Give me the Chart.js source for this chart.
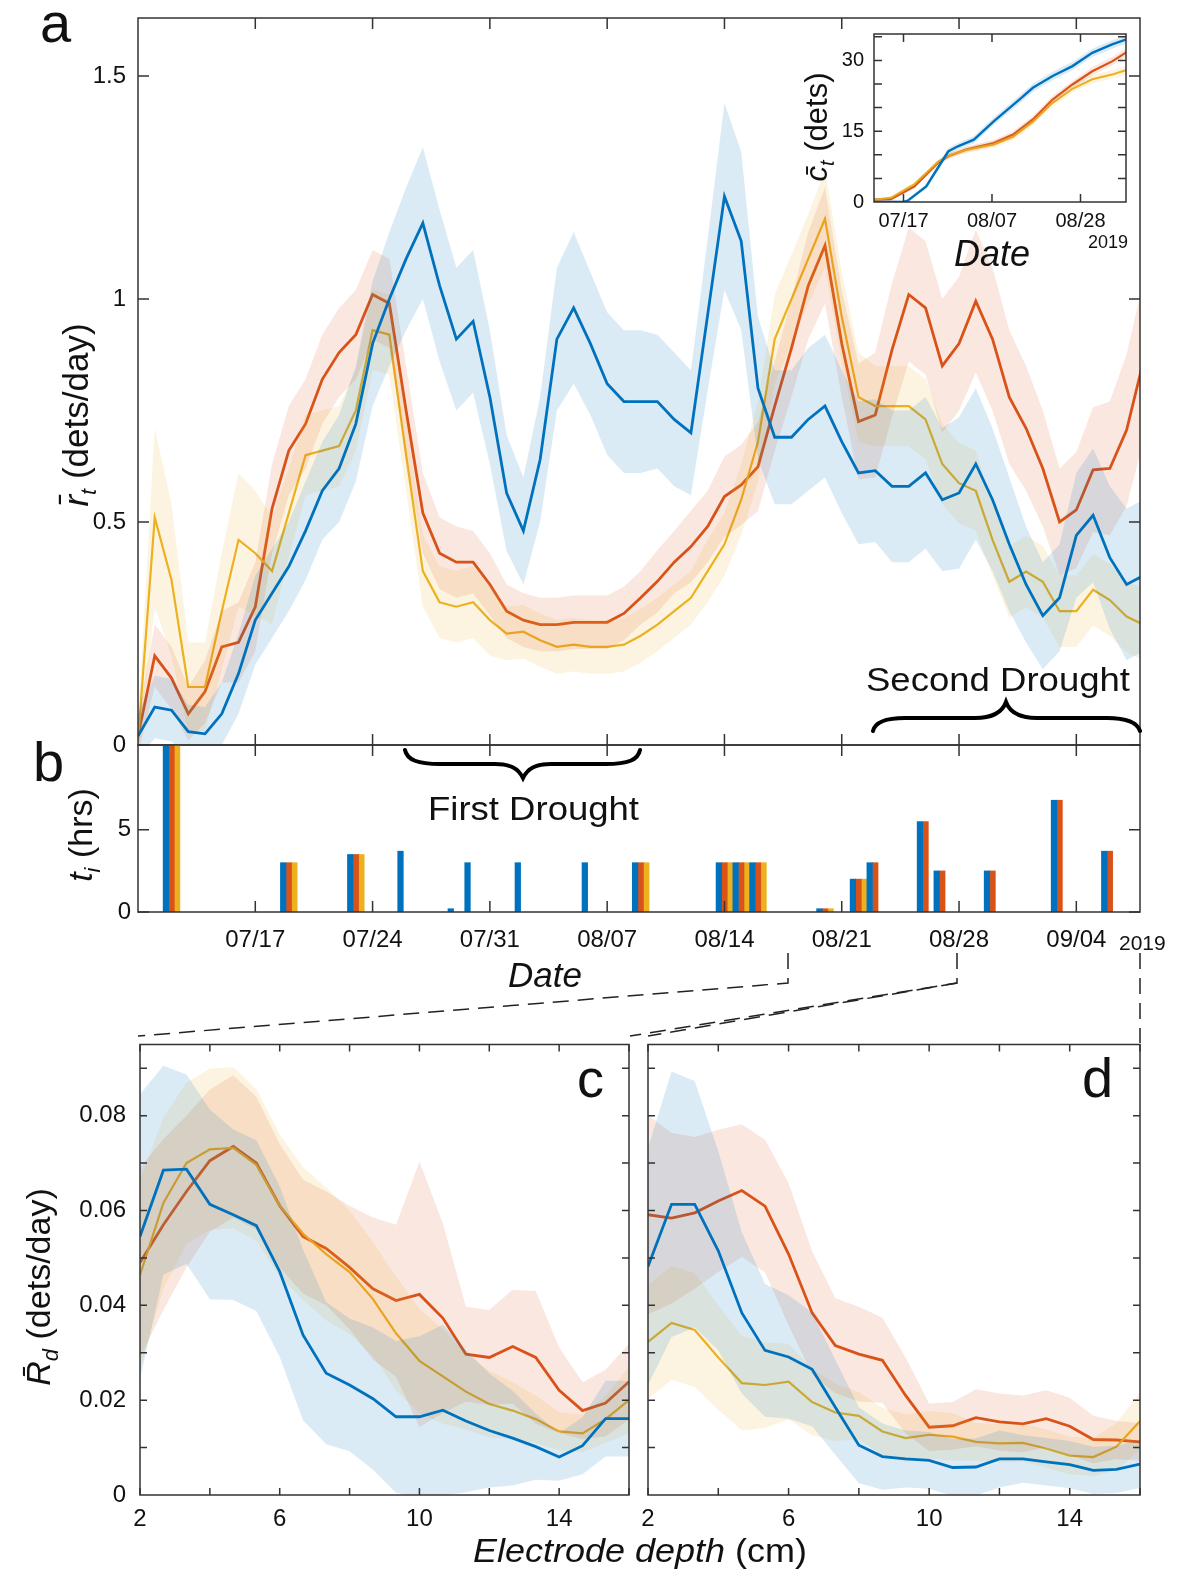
<!DOCTYPE html>
<html>
<head>
<meta charset="utf-8">
<title>Detection rates and drought periods</title>
<script src="https://cdn.jsdelivr.net/npm/chart.js@4.4.1/dist/chart.umd.min.js"></script>
<style>
  html, body { margin: 0; padding: 0; background: #fff; }
  body { position: relative; width: 1177px; height: 1570px; overflow: hidden; }
  .panel { position: absolute; }
  .panel canvas { display: block; }
  #overlay { position: absolute; left: 0; top: 0; pointer-events: none; }
  #overlay text { font-family: 'Liberation Sans', Arial, sans-serif; fill: #111; }
</style>
</head>
<body>
<div class="panel" style="left:0;top:0"><canvas id="chartA" width="1177" height="760"></canvas></div>
<div class="panel" style="left:0;top:730px"><canvas id="chartB" width="1177" height="270"></canvas></div>
<div class="panel" style="left:800px;top:25px"><canvas id="chartInset" width="345" height="210"></canvas></div>
<div class="panel" style="left:0;top:1030px"><canvas id="chartC" width="640" height="540"></canvas></div>
<div class="panel" style="left:640px;top:1030px"><canvas id="chartD" width="537" height="540"></canvas></div>

<svg id="overlay" width="1177" height="1570" viewBox="0 0 1177 1570">
  <!-- panel letters -->
  <text x="40" y="42" font-size="56">a</text>
  <text x="33" y="781" font-size="56">b</text>
  <text x="577" y="1097" font-size="54">c</text>
  <text x="1082" y="1097" font-size="56">d</text>

  <!-- axis titles -->
  <text transform="translate(88,415) rotate(-90)" text-anchor="middle" font-size="35"><tspan font-style="italic">r&#772;</tspan><tspan font-style="italic" font-size="22" dy="8">t</tspan><tspan dy="-8"> (dets/day)</tspan></text>
  <text transform="translate(92,835) rotate(-90)" text-anchor="middle" font-size="34"><tspan font-style="italic">t</tspan><tspan font-style="italic" font-size="22" dy="8">i</tspan><tspan dy="-8"> (hrs)</tspan></text>
  <text transform="translate(827,127) rotate(-90)" text-anchor="middle" font-size="31"><tspan font-style="italic">c&#772;</tspan><tspan font-style="italic" font-size="20" dy="7">t</tspan><tspan dy="-7"> (dets)</tspan></text>
  <text transform="translate(50,1287) rotate(-90)" text-anchor="middle" font-size="34"><tspan font-style="italic">R&#772;</tspan><tspan font-style="italic" font-size="22" dy="8">d</tspan><tspan dy="-8"> (dets/day)</tspan></text>

  <text x="545" y="987" font-size="35" font-style="italic" text-anchor="middle">Date</text>
  <text x="992" y="266" font-size="36" font-style="italic" text-anchor="middle">Date</text>
  <text x="1088" y="248" font-size="18">2019</text>
  <text x="1119" y="950" font-size="21">2019</text>
  <text x="473" y="1562" font-size="34" textLength="334" lengthAdjust="spacingAndGlyphs"><tspan font-style="italic">Electrode depth</tspan> (cm)</text>

  <!-- drought annotations -->
  <text x="428" y="820" font-size="34" textLength="211" lengthAdjust="spacingAndGlyphs">First Drought</text>
  <path d="M405,750 C407,760 418,764 440,764 L495,764 C510,764 518,768 523,778 C528,768 536,764 551,764 L606,764 C628,764 638,760 640,750"
        fill="none" stroke="#000" stroke-width="4" stroke-linecap="round"/>
  <text x="866" y="691" font-size="34" textLength="264" lengthAdjust="spacingAndGlyphs">Second Drought</text>
  <path d="M873,731 C875,722 885,718 905,718 L975,718 C992,718 1002,713 1006,702 C1010,713 1020,718 1037,718 L1107,718 C1127,718 1137,722 1140,731"
        fill="none" stroke="#000" stroke-width="4" stroke-linecap="round"/>

  <!-- zoom connectors -->
  <g fill="none" stroke="#222" stroke-width="1.5" stroke-dasharray="16,9">
    <path d="M788,953 V983 L138,1036"/>
    <path d="M957,953 V983 L630,1036"/>
    <path d="M957,983 L648,1036"/>
    <path d="M1140,953 V1043"/>
  </g>
</svg>

<script>
const BLUE = '#0072BD';
const RED = '#D95319';
const YELLOW = '#EDB120';
const BLUE_BAND = 'rgba(0,114,189,0.14)';
const RED_BAND = 'rgba(217,83,25,0.14)';
const YELLOW_BAND = 'rgba(237,177,32,0.14)';

// ---- panel a: daily detection rate (days since 07/10) ----
const days = [0, 1, 2, 3, 4, 5, 6, 7, 8, 9, 10, 11, 12, 13, 14, 15, 16, 17, 18, 19, 20,
  21, 22, 23, 24, 25, 26, 27, 28, 29, 30, 31, 32, 33, 34, 35, 36, 37, 38, 39, 40,
  41, 42, 43, 44, 45, 46, 47, 48, 49, 50, 51, 52, 53, 54, 55, 56, 57, 58, 59, 60];
const weekTicks = [7, 14, 21, 28, 35, 42, 49, 56];
const weekLabels = ['07/17', '07/24', '07/31', '08/07', '08/14', '08/21', '08/28', '09/04'];
const rateTicks = [0, 0.5, 1, 1.5];

const rateBlue = [0.02, 0.085, 0.078, 0.03, 0.025, 0.07, 0.16, 0.28, 0.34, 0.40,
  0.48, 0.57, 0.62, 0.72, 0.90, 1.00, 1.09, 1.17, 1.03, 0.91,
  0.95, 0.78, 0.565, 0.48, 0.64, 0.91, 0.98, 0.90, 0.81, 0.77,
  0.77, 0.77, 0.73, 0.70, 0.965, 1.23, 1.13, 0.80, 0.69, 0.69,
  0.73, 0.76, 0.68, 0.61, 0.615, 0.58, 0.58, 0.61, 0.55, 0.565,
  0.63, 0.55, 0.45, 0.36, 0.29, 0.33, 0.47, 0.515, 0.42, 0.36, 0.38];
const rateRed = [0.02, 0.20, 0.15, 0.07, 0.12, 0.22, 0.23, 0.31, 0.53, 0.66,
  0.72, 0.82, 0.88, 0.92, 1.01, 0.99, 0.75, 0.52, 0.43, 0.41,
  0.41, 0.36, 0.30, 0.28, 0.27, 0.27, 0.275, 0.275, 0.275, 0.295,
  0.33, 0.367, 0.41, 0.445, 0.49, 0.557, 0.583, 0.624, 0.76, 0.89,
  1.03, 1.12, 0.90, 0.725, 0.74, 0.886, 1.01, 0.98, 0.85, 0.90,
  0.995, 0.91, 0.78, 0.71, 0.62, 0.50, 0.527, 0.617, 0.62, 0.706, 0.86];
const rateYellow = [0.01, 0.51, 0.37, 0.13, 0.13, 0.30, 0.46, 0.43, 0.39, 0.52,
  0.65, 0.66, 0.67, 0.75, 0.93, 0.92, 0.65, 0.39, 0.32, 0.31,
  0.32, 0.28, 0.25, 0.254, 0.235, 0.22, 0.225, 0.22, 0.22, 0.225,
  0.245, 0.27, 0.30, 0.33, 0.39, 0.45, 0.55, 0.68, 0.91, 1.00,
  1.09, 1.18, 0.96, 0.78, 0.76, 0.76, 0.76, 0.73, 0.63, 0.587,
  0.57, 0.46, 0.366, 0.389, 0.366, 0.30, 0.30, 0.348, 0.325, 0.288, 0.27];

// half widths of the shaded bands
const rateBlueHW = [0.05, 0.07, 0.07, 0.06, 0.06, 0.07, 0.09, 0.10, 0.10, 0.10,
  0.11, 0.11, 0.12, 0.13, 0.14, 0.15, 0.16, 0.17, 0.17, 0.16,
  0.16, 0.15, 0.13, 0.12, 0.14, 0.16, 0.17, 0.16, 0.16, 0.16,
  0.16, 0.15, 0.15, 0.14, 0.17, 0.21, 0.20, 0.16, 0.15, 0.15,
  0.16, 0.16, 0.16, 0.16, 0.16, 0.17, 0.17, 0.17, 0.16, 0.17,
  0.17, 0.16, 0.15, 0.13, 0.12, 0.12, 0.14, 0.15, 0.16, 0.17, 0.17];
const rateRedHW = [0.04, 0.07, 0.07, 0.06, 0.07, 0.08, 0.09, 0.10, 0.10, 0.10,
  0.10, 0.10, 0.10, 0.10, 0.10, 0.10, 0.10, 0.09, 0.08, 0.08,
  0.07, 0.07, 0.06, 0.06, 0.06, 0.06, 0.06, 0.06, 0.06, 0.06,
  0.06, 0.07, 0.07, 0.08, 0.08, 0.09, 0.09, 0.10, 0.10, 0.11,
  0.12, 0.13, 0.12, 0.13, 0.14, 0.15, 0.15, 0.15, 0.15, 0.15,
  0.16, 0.16, 0.15, 0.14, 0.13, 0.12, 0.13, 0.14, 0.15, 0.17, 0.18];
const rateYellowHW = [0.04, 0.20, 0.17, 0.10, 0.10, 0.13, 0.15, 0.14, 0.12, 0.10,
  0.09, 0.09, 0.09, 0.09, 0.09, 0.09, 0.08, 0.08, 0.08, 0.08,
  0.08, 0.08, 0.06, 0.06, 0.06, 0.06, 0.06, 0.06, 0.06, 0.06,
  0.06, 0.06, 0.06, 0.06, 0.07, 0.07, 0.08, 0.09, 0.10, 0.10,
  0.10, 0.11, 0.10, 0.10, 0.09, 0.09, 0.09, 0.09, 0.09, 0.09,
  0.09, 0.08, 0.08, 0.08, 0.08, 0.08, 0.08, 0.08, 0.08, 0.08, 0.08];

// ---- inset: cumulative detections ----
const insetTicks = [7, 28, 49];
const insetLabels = ['07/17', '08/07', '08/28'];
const insetYTicks = [0, 15, 30];
const insetBlueDays = [0, 7, 8, 12.4, 17.6, 19.9, 23.7, 28.4, 34.9, 37.7, 42.4, 47.1, 51.8, 56.5, 60];
const insetBlue = [0, 0, 0.3, 3.3, 10.7, 11.8, 13.2, 17.1, 22.0, 24.2, 26.7, 28.8, 31.6, 33.4, 34.5];
const insetBlueHW = [0.3, 0.3, 0.3, 0.5, 0.7, 0.7, 0.8, 0.8, 0.9, 0.9, 0.9, 0.9, 0.9, 0.9, 0.9];
const insetOtherDays = [0, 4, 9.6, 15.2, 17.6, 21.8, 28.4, 33, 37.7, 42.4, 47.1, 51.8, 56.5, 60];
const insetRed = [0.5, 0.6, 3.3, 8.3, 9.7, 11.1, 12.5, 14.3, 17.5, 21.7, 24.9, 27.7, 29.8, 31.8];
const insetRedHW = [0.3, 0.3, 0.4, 0.5, 0.6, 0.6, 0.7, 0.7, 0.8, 0.8, 0.8, 0.9, 0.9, 0.9];
const insetYellow = [0.5, 0.9, 3.8, 8.5, 9.8, 11.0, 12.2, 13.8, 17.0, 21.0, 24.0, 26.0, 27.0, 28.0];
const insetYellowHW = [0.3, 0.3, 0.4, 0.5, 0.6, 0.6, 0.7, 0.7, 0.8, 0.8, 0.8, 0.9, 0.9, 0.9];

// ---- panel b: idle durations (hrs) ----
const idleDays = [2, 9, 13, 16, 19, 20, 23, 27, 30, 35, 36, 37, 41, 43, 44, 47, 48, 51, 55, 58];
const idleBlue = [12, 3, 3.5, 3.7, 0.2, 3, 3, 3, 3, 3, 3, 3, 0.2, 2, 3, 5.5, 2.5, 2.5, 6.8, 3.7];
const idleRed = [12, 3, 3.5, null, null, null, null, null, 3, 3, 3, 3, 0.2, 2, 3, 5.5, 2.5, 2.5, 6.8, 3.7];
const idleYellow = [12, 3, 3.5, null, null, null, null, null, 3, 3, 3, 3, 0.2, 2, null, null, null, null, null, null];
const idleTicks = [0, 5];

// ---- panels c, d: rate against electrode depth ----
const depths = [2, 2.67, 3.33, 4, 4.67, 5.33, 6, 6.67, 7.33, 8, 8.67,
  9.33, 10, 10.67, 11.33, 12, 12.67, 13.33, 14, 14.67, 15.33, 16];
const depthTicks = [2, 6, 10, 14];
const depthRateTicks = [0, 0.02, 0.04, 0.06, 0.08];

const cBlue = [0.0545, 0.0685, 0.0687, 0.0613, 0.0591, 0.0568, 0.0471, 0.0337, 0.0257, 0.0232, 0.0203,
  0.0165, 0.0165, 0.0179, 0.0156, 0.0136, 0.012, 0.0102, 0.008, 0.0104, 0.0161, 0.0161];
const cRed = [0.049, 0.057, 0.064, 0.0705, 0.0735, 0.070, 0.061, 0.0545, 0.052, 0.048, 0.0435,
  0.041, 0.0423, 0.0373, 0.0297, 0.029, 0.0313, 0.029, 0.0221, 0.0178, 0.0194, 0.0239];
const cYellow = [0.0464, 0.0616, 0.070, 0.0729, 0.0732, 0.0696, 0.061, 0.0551, 0.0508, 0.047, 0.0413,
  0.0341, 0.0283, 0.025, 0.0218, 0.0192, 0.0178, 0.016, 0.0134, 0.013, 0.016, 0.020];
const cBlueHW = [0.03, 0.022, 0.02, 0.02, 0.018, 0.018, 0.018, 0.018, 0.015, 0.014, 0.015,
  0.016, 0.017, 0.018, 0.015, 0.012, 0.01, 0.007, 0.005, 0.006, 0.008, 0.008];
const cRedHW = [0.02, 0.018, 0.016, 0.015, 0.015, 0.014, 0.013, 0.012, 0.012, 0.013, 0.015,
  0.016, 0.028, 0.02, 0.01, 0.01, 0.012, 0.014, 0.009, 0.006, 0.007, 0.008];
const cYellowHW = [0.02, 0.018, 0.017, 0.017, 0.017, 0.016, 0.015, 0.014, 0.014, 0.013, 0.012,
  0.012, 0.011, 0.01, 0.008, 0.007, 0.006, 0.005, 0.004, 0.004, 0.005, 0.007];

const dBlue = [0.0482, 0.0613, 0.0613, 0.0515, 0.0384, 0.0305, 0.0291, 0.0265, 0.0185, 0.0105, 0.0081,
  0.0076, 0.0073, 0.0058, 0.0059, 0.0076, 0.0076, 0.007, 0.0064, 0.0052, 0.0054, 0.0065];
const dRed = [0.0591, 0.0584, 0.0595, 0.062, 0.0642, 0.0609, 0.0508, 0.0384, 0.0315, 0.0297, 0.0284,
  0.021, 0.0143, 0.0146, 0.0163, 0.0154, 0.015, 0.0161, 0.0145, 0.0117, 0.0116, 0.0112];
const dYellow = [0.0323, 0.0363, 0.0348, 0.029, 0.0236, 0.0232, 0.0239, 0.0196, 0.0174, 0.0167, 0.0134,
  0.012, 0.0127, 0.0123, 0.0112, 0.0109, 0.011, 0.0098, 0.0083, 0.008, 0.0102, 0.0156];
const dBlueHW = [0.025, 0.028, 0.026, 0.021, 0.017, 0.014, 0.013, 0.012, 0.01, 0.008, 0.007,
  0.006, 0.006, 0.006, 0.006, 0.006, 0.005, 0.005, 0.005, 0.005, 0.005, 0.005];
const dRedHW = [0.021, 0.018, 0.016, 0.015, 0.014, 0.014, 0.015, 0.013, 0.01, 0.01, 0.009,
  0.008, 0.005, 0.005, 0.006, 0.006, 0.006, 0.006, 0.006, 0.005, 0.004, 0.004];
const dYellowHW = [0.012, 0.012, 0.012, 0.011, 0.01, 0.009, 0.008, 0.007, 0.006, 0.005, 0.005,
  0.005, 0.005, 0.005, 0.004, 0.004, 0.004, 0.004, 0.004, 0.004, 0.005, 0.006];

Chart.defaults.font.family = "'Liberation Sans', Arial, sans-serif";
Chart.defaults.color = '#111';

// box around the plot area with MATLAB-style inward ticks
const framePlugin = {
  id: 'frame',
  beforeDraw(chart, args, opts) {
    if (!opts.background) return;
    const a = chart.chartArea;
    chart.ctx.save();
    chart.ctx.fillStyle = opts.background;
    chart.ctx.fillRect(a.left, a.top, a.right - a.left, a.bottom - a.top);
    chart.ctx.restore();
  },
  afterDraw(chart, args, opts) {
    const { ctx, chartArea: a, scales } = chart;
    const len = opts.len || 8;
    ctx.save();
    ctx.strokeStyle = '#333';
    ctx.lineWidth = 1.5;
    ctx.strokeRect(a.left, a.top, a.right - a.left, a.bottom - a.top);
    ctx.beginPath();
    (opts.xTicks || []).forEach(v => {
      const x = scales.x.getPixelForValue(v);
      ctx.moveTo(x, a.bottom); ctx.lineTo(x, a.bottom - len);
      ctx.moveTo(x, a.top); ctx.lineTo(x, a.top + len);
    });
    (opts.yTicks || []).forEach(v => {
      const y = scales.y.getPixelForValue(v);
      ctx.moveTo(a.left, y); ctx.lineTo(a.left + len, y);
      ctx.moveTo(a.right, y); ctx.lineTo(a.right - len, y);
    });
    ctx.stroke();
    ctx.restore();
  }
};

function bandPair(xs, mean, hw, color) {
  return [
    { data: xs.map((x, i) => ({ x, y: mean[i] + hw[i] })), borderWidth: 0, borderColor: 'transparent',
      pointRadius: 0, backgroundColor: color, fill: '+1', order: 5 },
    { data: xs.map((x, i) => ({ x, y: mean[i] - hw[i] })), borderWidth: 0, borderColor: 'transparent',
      pointRadius: 0, fill: false, order: 5 }
  ];
}

function meanLine(xs, mean, color, width, order) {
  return { data: xs.map((x, i) => ({ x, y: mean[i] })), borderColor: color, borderWidth: width,
    pointRadius: 0, fill: false, order };
}

function fixedTicks(values) {
  return scale => { scale.ticks = values.map(v => ({ value: v })); };
}

// pin the axis size and drop the label overhang padding so the plot box lands where we want it
function fitTo(prop, size) {
  return scale => {
    scale[prop] = size;
    scale.paddingTop = 0; scale.paddingBottom = 0;
    scale.paddingLeft = 0; scale.paddingRight = 0;
  };
}

const plainLabel = v => String(v);

const baseOptions = {
  responsive: false,
  animation: false,
  events: [],
  plugins: { legend: { display: false }, tooltip: { enabled: false } }
};

// panel a
new Chart(document.getElementById('chartA'), {
  type: 'line',
  data: {
    datasets: [
      ...bandPair(days, rateBlue, rateBlueHW, BLUE_BAND),
      ...bandPair(days, rateRed, rateRedHW, RED_BAND),
      ...bandPair(days, rateYellow, rateYellowHW, YELLOW_BAND),
      meanLine(days, rateRed, RED, 2.8, 10),
      meanLine(days, rateYellow, YELLOW, 2.2, 9),
      meanLine(days, rateBlue, BLUE, 2.8, 0)
    ]
  },
  options: {
    ...baseOptions,
    layout: { padding: { top: 18, right: 37, bottom: 15, left: 0 } },
    scales: {
      x: { type: 'linear', min: 0, max: 59.8, display: false },
      y: {
        min: 0, max: 1.63,
        afterFit: fitTo('width', 138),
        afterBuildTicks: fixedTicks(rateTicks),
        grid: { display: false, drawTicks: false },
        border: { display: false },
        ticks: { padding: 12, font: { size: 24 }, color: '#111', callback: plainLabel }
      }
    },
    plugins: { ...baseOptions.plugins, frame: { xTicks: weekTicks, yTicks: rateTicks, len: 11 } }
  },
  plugins: [framePlugin]
});

// inset
new Chart(document.getElementById('chartInset'), {
  type: 'line',
  data: {
    datasets: [
      ...bandPair(insetBlueDays, insetBlue, insetBlueHW, BLUE_BAND),
      ...bandPair(insetOtherDays, insetRed, insetRedHW, RED_BAND),
      ...bandPair(insetOtherDays, insetYellow, insetYellowHW, YELLOW_BAND),
      meanLine(insetOtherDays, insetYellow, YELLOW, 2, 9),
      meanLine(insetOtherDays, insetRed, RED, 2.2, 10),
      meanLine(insetBlueDays, insetBlue, BLUE, 2.4, 0)
    ]
  },
  options: {
    ...baseOptions,
    layout: { padding: { top: 9, right: 19, bottom: 0, left: 0 } },
    scales: {
      x: {
        type: 'linear', min: 0, max: 59.8,
        afterFit: fitTo('height', 33),
        afterBuildTicks: fixedTicks(insetTicks),
        grid: { display: false, drawTicks: false },
        border: { display: false },
        ticks: { padding: 7, font: { size: 20 }, autoSkip: false, maxRotation: 0,
          callback: (v, i) => insetLabels[i] }
      },
      y: {
        min: 0, max: 35.6,
        afterFit: fitTo('width', 74),
        afterBuildTicks: fixedTicks(insetYTicks),
        grid: { display: false, drawTicks: false },
        border: { display: false },
        ticks: { padding: 10, font: { size: 20 }, callback: plainLabel }
      }
    },
    plugins: { ...baseOptions.plugins,
      frame: { xTicks: insetTicks, yTicks: [5, 10, 15, 20, 25, 30, 35], len: 8, background: '#fff' } }
  },
  plugins: [framePlugin]
});

// panel b
new Chart(document.getElementById('chartB'), {
  type: 'bar',
  data: {
    datasets: [
      { data: idleDays.map((d, i) => ({ x: d, y: idleBlue[i] })), backgroundColor: BLUE },
      { data: idleDays.map((d, i) => ({ x: d, y: idleRed[i] })), backgroundColor: RED },
      { data: idleDays.map((d, i) => ({ x: d, y: idleYellow[i] })), backgroundColor: YELLOW }
    ]
  },
  options: {
    ...baseOptions,
    categoryPercentage: 1,
    barPercentage: 1,
    layout: { padding: { top: 15, right: 37, bottom: 0, left: 0 } },
    scales: {
      x: {
        type: 'linear', min: 0, max: 59.8, offset: false,
        afterFit: fitTo('height', 88),
        afterBuildTicks: fixedTicks(weekTicks),
        grid: { display: false, drawTicks: false, offset: false },
        border: { display: false },
        ticks: { padding: 14, font: { size: 24 }, autoSkip: false, maxRotation: 0,
          callback: (v, i) => weekLabels[i] }
      },
      y: {
        min: 0, max: 10.16,
        afterFit: fitTo('width', 138),
        afterBuildTicks: fixedTicks(idleTicks),
        grid: { display: false, drawTicks: false },
        border: { display: false },
        ticks: { padding: 7, font: { size: 24 }, callback: plainLabel }
      }
    },
    plugins: { ...baseOptions.plugins, frame: { xTicks: weekTicks, yTicks: idleTicks, len: 11 } }
  },
  plugins: [framePlugin]
});

function depthChart(id, blue, red, yellow, blueHW, redHW, yellowHW, yWidth, padRight, showY) {
  return new Chart(document.getElementById(id), {
    type: 'line',
    data: {
      datasets: [
        ...bandPair(depths, blue, blueHW, BLUE_BAND),
        ...bandPair(depths, red, redHW, RED_BAND),
        ...bandPair(depths, yellow, yellowHW, YELLOW_BAND),
        meanLine(depths, red, RED, 2.8, 10),
        meanLine(depths, yellow, YELLOW, 2.2, 9),
        meanLine(depths, blue, BLUE, 2.8, 0)
      ]
    },
    options: {
      ...baseOptions,
      layout: { padding: { top: 14.5, right: padRight, bottom: 0, left: 0 } },
      scales: {
        x: {
          type: 'linear', min: 2, max: 16,
          afterFit: fitTo('height', 75),
          afterBuildTicks: fixedTicks(depthTicks),
          grid: { display: false, drawTicks: false },
          border: { display: false },
          ticks: { padding: 10, font: { size: 24 }, autoSkip: false, maxRotation: 0, callback: plainLabel }
        },
        y: {
          min: 0, max: 0.095,
          afterFit: fitTo('width', yWidth),
          afterBuildTicks: fixedTicks(depthRateTicks),
          grid: { display: false, drawTicks: false },
          border: { display: false },
          ticks: { display: showY, padding: 14, font: { size: 24 },
            callback: v => (v === 0 ? '0' : v.toFixed(2)) }
        }
      },
      plugins: { ...baseOptions.plugins,
        frame: { xTicks: [2, 4, 6, 8, 10, 12, 14, 16],
          yTicks: [0.01, 0.02, 0.03, 0.04, 0.05, 0.06, 0.07, 0.08, 0.09], len: 7 } }
    },
    plugins: [framePlugin]
  });
}

depthChart('chartC', cBlue, cRed, cYellow, cBlueHW, cRedHW, cYellowHW, 140, 11, true);
depthChart('chartD', dBlue, dRed, dYellow, dBlueHW, dRedHW, dYellowHW, 8, 37, false);
</script>
</body>
</html>
